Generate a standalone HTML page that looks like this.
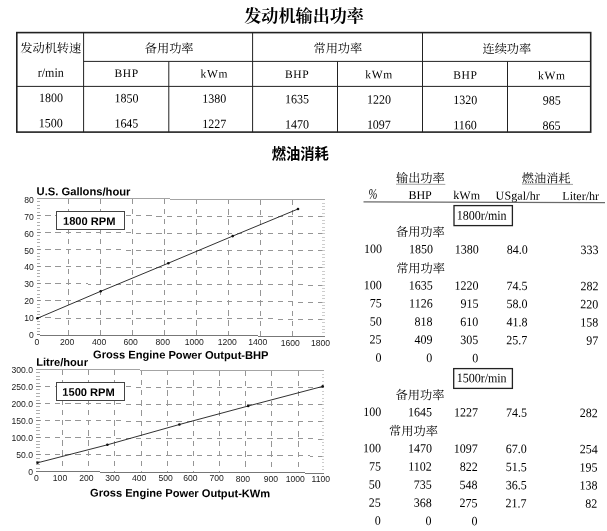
<!DOCTYPE html>
<html><head><meta charset="utf-8"><title>发动机输出功率</title>
<style>
html,body{margin:0;padding:0;background:#fff;}
body{width:607px;height:531px;position:relative;overflow:hidden;}
svg{position:absolute;left:0;top:0;font-family:"Liberation Serif",serif;will-change:transform;}
text{white-space:pre;}
</style></head><body>
<svg width="607" height="531" viewBox="0 0 607 531">
<text x="304.1" y="21.8" font-size="17.1" font-weight="bold" text-anchor="middle" fill="#000" font-family="'Liberation Serif','Noto Serif CJK SC',serif">发动机输出功率</text>
<rect x="16.8" y="32.6" width="573.9" height="99.5" fill="none" stroke="#222" stroke-width="1.6"/>
<line x1="83.6" y1="61.4" x2="590.7" y2="61.4" stroke="#222" stroke-width="1" />
<line x1="16.8" y1="86.4" x2="590.7" y2="86.4" stroke="#222" stroke-width="1" />
<line x1="83.6" y1="32.6" x2="83.6" y2="132.1" stroke="#222" stroke-width="1" />
<line x1="252.6" y1="32.6" x2="252.6" y2="132.1" stroke="#222" stroke-width="1" />
<line x1="422.5" y1="32.6" x2="422.5" y2="132.1" stroke="#222" stroke-width="1" />
<line x1="168.8" y1="61.4" x2="168.8" y2="132.1" stroke="#222" stroke-width="1" />
<line x1="337.5" y1="61.4" x2="337.5" y2="132.1" stroke="#222" stroke-width="1" />
<line x1="507.5" y1="61.4" x2="507.5" y2="132.1" stroke="#222" stroke-width="1" />
<text x="20.3" y="52.2" font-size="12.2" fill="#000" font-family="'Liberation Serif','Noto Serif CJK SC',serif" transform="rotate(0.29 20.3 52.2)">发动机转速</text>
<text x="144.8" y="52.4" font-size="12.2" fill="#000" font-family="'Liberation Serif','Noto Serif CJK SC',serif" transform="rotate(0.29 144.8 52.4)">备用功率</text>
<text x="313.5" y="52.4" font-size="12.2" fill="#000" font-family="'Liberation Serif','Noto Serif CJK SC',serif" transform="rotate(0.29 313.5 52.4)">常用功率</text>
<text x="482.5" y="52.9" font-size="12.2" fill="#000" font-family="'Liberation Serif','Noto Serif CJK SC',serif" transform="rotate(0.29 482.5 52.9)">连续功率</text>
<g transform="rotate(0.29 50 102)">
<text font-size="12.7" text-anchor="middle" transform="translate(50.6 76.8) scale(0.945 1)">r/min</text>
<text font-size="12.7" text-anchor="middle" transform="translate(50.9 102) scale(0.945 1)">1800</text>
<text font-size="12.7" text-anchor="middle" transform="translate(50.9 127.2) scale(0.945 1)">1500</text>
<text x="126.5" y="76.7" font-size="11.5" text-anchor="middle" letter-spacing="0.65">BHP</text>
<text x="214.3" y="76.7" font-size="11.5" text-anchor="middle" letter-spacing="0.7">kWm</text>
<text font-size="12.7" text-anchor="middle" transform="translate(126.5 102) scale(0.945 1)">1850</text>
<text font-size="12.7" text-anchor="middle" transform="translate(214.3 102) scale(0.945 1)">1380</text>
<text font-size="12.7" text-anchor="middle" transform="translate(126.5 127.2) scale(0.945 1)">1645</text>
<text font-size="12.7" text-anchor="middle" transform="translate(214.3 127.2) scale(0.945 1)">1227</text>
<text x="297.1" y="76.7" font-size="11.5" text-anchor="middle" letter-spacing="0.65">BHP</text>
<text x="379" y="76.7" font-size="11.5" text-anchor="middle" letter-spacing="0.7">kWm</text>
<text font-size="12.7" text-anchor="middle" transform="translate(297.1 102) scale(0.945 1)">1635</text>
<text font-size="12.7" text-anchor="middle" transform="translate(379 102) scale(0.945 1)">1220</text>
<text font-size="12.7" text-anchor="middle" transform="translate(297.1 127.2) scale(0.945 1)">1470</text>
<text font-size="12.7" text-anchor="middle" transform="translate(379 127.2) scale(0.945 1)">1097</text>
<text x="465.2" y="76.7" font-size="11.5" text-anchor="middle" letter-spacing="0.65">BHP</text>
<text x="551.7" y="76.7" font-size="11.5" text-anchor="middle" letter-spacing="0.7">kWm</text>
<text font-size="12.7" text-anchor="middle" transform="translate(465.2 102) scale(0.945 1)">1320</text>
<text font-size="12.7" text-anchor="middle" transform="translate(551.7 102) scale(0.945 1)">985</text>
<text font-size="12.7" text-anchor="middle" transform="translate(465.2 127.2) scale(0.945 1)">1160</text>
<text font-size="12.7" text-anchor="middle" transform="translate(551.7 127.2) scale(0.945 1)">865</text>
</g>
<text x="300.3" y="159" font-size="14.3" font-weight="bold" text-anchor="middle" fill="#000" font-family="'Liberation Sans','Noto Sans CJK SC',sans-serif">燃油消耗</text>
<g transform="translate(36.5 335) skewY(0.26) translate(-36.5 -335)"><g shape-rendering="crispEdges"><line x1="36.5" y1="317.93" x2="324.6" y2="317.93" stroke="#969696" stroke-width="1" stroke-dasharray="5.2 4.9" stroke-dashoffset="1.3"/><line x1="36.5" y1="300.85" x2="324.6" y2="300.85" stroke="#969696" stroke-width="1" stroke-dasharray="5.2 4.9" stroke-dashoffset="1.3"/><line x1="36.5" y1="283.77" x2="324.6" y2="283.77" stroke="#969696" stroke-width="1" stroke-dasharray="5.2 4.9" stroke-dashoffset="1.3"/><line x1="36.5" y1="266.7" x2="324.6" y2="266.7" stroke="#969696" stroke-width="1" stroke-dasharray="5.2 4.9" stroke-dashoffset="1.3"/><line x1="36.5" y1="249.62" x2="324.6" y2="249.62" stroke="#969696" stroke-width="1" stroke-dasharray="5.2 4.9" stroke-dashoffset="1.3"/><line x1="36.5" y1="232.55" x2="324.6" y2="232.55" stroke="#969696" stroke-width="1" stroke-dasharray="5.2 4.9" stroke-dashoffset="1.3"/><line x1="36.5" y1="215.48" x2="324.6" y2="215.48" stroke="#969696" stroke-width="1" stroke-dasharray="5.2 4.9" stroke-dashoffset="1.3"/><line x1="68.51" y1="198.4" x2="68.51" y2="335" stroke="#969696" stroke-width="1" stroke-dasharray="5.2 4.9" stroke-dashoffset="0"/><line x1="100.52" y1="198.4" x2="100.52" y2="335" stroke="#969696" stroke-width="1" stroke-dasharray="5.2 4.9" stroke-dashoffset="0"/><line x1="132.53" y1="198.4" x2="132.53" y2="335" stroke="#969696" stroke-width="1" stroke-dasharray="5.2 4.9" stroke-dashoffset="0"/><line x1="164.54" y1="198.4" x2="164.54" y2="335" stroke="#969696" stroke-width="1" stroke-dasharray="5.2 4.9" stroke-dashoffset="0"/><line x1="196.56" y1="198.4" x2="196.56" y2="335" stroke="#969696" stroke-width="1" stroke-dasharray="5.2 4.9" stroke-dashoffset="0"/><line x1="228.57" y1="198.4" x2="228.57" y2="335" stroke="#969696" stroke-width="1" stroke-dasharray="5.2 4.9" stroke-dashoffset="0"/><line x1="260.58" y1="198.4" x2="260.58" y2="335" stroke="#969696" stroke-width="1" stroke-dasharray="5.2 4.9" stroke-dashoffset="0"/><line x1="292.59" y1="198.4" x2="292.59" y2="335" stroke="#969696" stroke-width="1" stroke-dasharray="5.2 4.9" stroke-dashoffset="0"/><line x1="36.5" y1="335" x2="40.7" y2="335" stroke="#808080" stroke-width="0.8" /><line x1="322.2" y1="335" x2="324.6" y2="335" stroke="#c0c0c0" stroke-width="0.8" /><line x1="36.5" y1="331.58" x2="39.7" y2="331.58" stroke="#9a9a9a" stroke-width="0.8" /><line x1="322.2" y1="331.58" x2="324.6" y2="331.58" stroke="#c0c0c0" stroke-width="0.8" /><line x1="36.5" y1="328.17" x2="39.7" y2="328.17" stroke="#9a9a9a" stroke-width="0.8" /><line x1="322.2" y1="328.17" x2="324.6" y2="328.17" stroke="#c0c0c0" stroke-width="0.8" /><line x1="36.5" y1="324.75" x2="39.7" y2="324.75" stroke="#9a9a9a" stroke-width="0.8" /><line x1="322.2" y1="324.75" x2="324.6" y2="324.75" stroke="#c0c0c0" stroke-width="0.8" /><line x1="36.5" y1="321.34" x2="39.7" y2="321.34" stroke="#9a9a9a" stroke-width="0.8" /><line x1="322.2" y1="321.34" x2="324.6" y2="321.34" stroke="#c0c0c0" stroke-width="0.8" /><line x1="36.5" y1="317.93" x2="40.7" y2="317.93" stroke="#808080" stroke-width="0.8" /><line x1="322.2" y1="317.93" x2="324.6" y2="317.93" stroke="#c0c0c0" stroke-width="0.8" /><line x1="36.5" y1="314.51" x2="39.7" y2="314.51" stroke="#9a9a9a" stroke-width="0.8" /><line x1="322.2" y1="314.51" x2="324.6" y2="314.51" stroke="#c0c0c0" stroke-width="0.8" /><line x1="36.5" y1="311.1" x2="39.7" y2="311.1" stroke="#9a9a9a" stroke-width="0.8" /><line x1="322.2" y1="311.1" x2="324.6" y2="311.1" stroke="#c0c0c0" stroke-width="0.8" /><line x1="36.5" y1="307.68" x2="39.7" y2="307.68" stroke="#9a9a9a" stroke-width="0.8" /><line x1="322.2" y1="307.68" x2="324.6" y2="307.68" stroke="#c0c0c0" stroke-width="0.8" /><line x1="36.5" y1="304.26" x2="39.7" y2="304.26" stroke="#9a9a9a" stroke-width="0.8" /><line x1="322.2" y1="304.26" x2="324.6" y2="304.26" stroke="#c0c0c0" stroke-width="0.8" /><line x1="36.5" y1="300.85" x2="40.7" y2="300.85" stroke="#808080" stroke-width="0.8" /><line x1="322.2" y1="300.85" x2="324.6" y2="300.85" stroke="#c0c0c0" stroke-width="0.8" /><line x1="36.5" y1="297.44" x2="39.7" y2="297.44" stroke="#9a9a9a" stroke-width="0.8" /><line x1="322.2" y1="297.44" x2="324.6" y2="297.44" stroke="#c0c0c0" stroke-width="0.8" /><line x1="36.5" y1="294.02" x2="39.7" y2="294.02" stroke="#9a9a9a" stroke-width="0.8" /><line x1="322.2" y1="294.02" x2="324.6" y2="294.02" stroke="#c0c0c0" stroke-width="0.8" /><line x1="36.5" y1="290.61" x2="39.7" y2="290.61" stroke="#9a9a9a" stroke-width="0.8" /><line x1="322.2" y1="290.61" x2="324.6" y2="290.61" stroke="#c0c0c0" stroke-width="0.8" /><line x1="36.5" y1="287.19" x2="39.7" y2="287.19" stroke="#9a9a9a" stroke-width="0.8" /><line x1="322.2" y1="287.19" x2="324.6" y2="287.19" stroke="#c0c0c0" stroke-width="0.8" /><line x1="36.5" y1="283.77" x2="40.7" y2="283.77" stroke="#808080" stroke-width="0.8" /><line x1="322.2" y1="283.77" x2="324.6" y2="283.77" stroke="#c0c0c0" stroke-width="0.8" /><line x1="36.5" y1="280.36" x2="39.7" y2="280.36" stroke="#9a9a9a" stroke-width="0.8" /><line x1="322.2" y1="280.36" x2="324.6" y2="280.36" stroke="#c0c0c0" stroke-width="0.8" /><line x1="36.5" y1="276.94" x2="39.7" y2="276.94" stroke="#9a9a9a" stroke-width="0.8" /><line x1="322.2" y1="276.94" x2="324.6" y2="276.94" stroke="#c0c0c0" stroke-width="0.8" /><line x1="36.5" y1="273.53" x2="39.7" y2="273.53" stroke="#9a9a9a" stroke-width="0.8" /><line x1="322.2" y1="273.53" x2="324.6" y2="273.53" stroke="#c0c0c0" stroke-width="0.8" /><line x1="36.5" y1="270.12" x2="39.7" y2="270.12" stroke="#9a9a9a" stroke-width="0.8" /><line x1="322.2" y1="270.12" x2="324.6" y2="270.12" stroke="#c0c0c0" stroke-width="0.8" /><line x1="36.5" y1="266.7" x2="40.7" y2="266.7" stroke="#808080" stroke-width="0.8" /><line x1="322.2" y1="266.7" x2="324.6" y2="266.7" stroke="#c0c0c0" stroke-width="0.8" /><line x1="36.5" y1="263.28" x2="39.7" y2="263.28" stroke="#9a9a9a" stroke-width="0.8" /><line x1="322.2" y1="263.28" x2="324.6" y2="263.28" stroke="#c0c0c0" stroke-width="0.8" /><line x1="36.5" y1="259.87" x2="39.7" y2="259.87" stroke="#9a9a9a" stroke-width="0.8" /><line x1="322.2" y1="259.87" x2="324.6" y2="259.87" stroke="#c0c0c0" stroke-width="0.8" /><line x1="36.5" y1="256.46" x2="39.7" y2="256.46" stroke="#9a9a9a" stroke-width="0.8" /><line x1="322.2" y1="256.46" x2="324.6" y2="256.46" stroke="#c0c0c0" stroke-width="0.8" /><line x1="36.5" y1="253.04" x2="39.7" y2="253.04" stroke="#9a9a9a" stroke-width="0.8" /><line x1="322.2" y1="253.04" x2="324.6" y2="253.04" stroke="#c0c0c0" stroke-width="0.8" /><line x1="36.5" y1="249.62" x2="40.7" y2="249.62" stroke="#808080" stroke-width="0.8" /><line x1="322.2" y1="249.62" x2="324.6" y2="249.62" stroke="#c0c0c0" stroke-width="0.8" /><line x1="36.5" y1="246.21" x2="39.7" y2="246.21" stroke="#9a9a9a" stroke-width="0.8" /><line x1="322.2" y1="246.21" x2="324.6" y2="246.21" stroke="#c0c0c0" stroke-width="0.8" /><line x1="36.5" y1="242.8" x2="39.7" y2="242.8" stroke="#9a9a9a" stroke-width="0.8" /><line x1="322.2" y1="242.8" x2="324.6" y2="242.8" stroke="#c0c0c0" stroke-width="0.8" /><line x1="36.5" y1="239.38" x2="39.7" y2="239.38" stroke="#9a9a9a" stroke-width="0.8" /><line x1="322.2" y1="239.38" x2="324.6" y2="239.38" stroke="#c0c0c0" stroke-width="0.8" /><line x1="36.5" y1="235.97" x2="39.7" y2="235.97" stroke="#9a9a9a" stroke-width="0.8" /><line x1="322.2" y1="235.97" x2="324.6" y2="235.97" stroke="#c0c0c0" stroke-width="0.8" /><line x1="36.5" y1="232.55" x2="40.7" y2="232.55" stroke="#808080" stroke-width="0.8" /><line x1="322.2" y1="232.55" x2="324.6" y2="232.55" stroke="#c0c0c0" stroke-width="0.8" /><line x1="36.5" y1="229.14" x2="39.7" y2="229.14" stroke="#9a9a9a" stroke-width="0.8" /><line x1="322.2" y1="229.14" x2="324.6" y2="229.14" stroke="#c0c0c0" stroke-width="0.8" /><line x1="36.5" y1="225.72" x2="39.7" y2="225.72" stroke="#9a9a9a" stroke-width="0.8" /><line x1="322.2" y1="225.72" x2="324.6" y2="225.72" stroke="#c0c0c0" stroke-width="0.8" /><line x1="36.5" y1="222.31" x2="39.7" y2="222.31" stroke="#9a9a9a" stroke-width="0.8" /><line x1="322.2" y1="222.31" x2="324.6" y2="222.31" stroke="#c0c0c0" stroke-width="0.8" /><line x1="36.5" y1="218.89" x2="39.7" y2="218.89" stroke="#9a9a9a" stroke-width="0.8" /><line x1="322.2" y1="218.89" x2="324.6" y2="218.89" stroke="#c0c0c0" stroke-width="0.8" /><line x1="36.5" y1="215.47" x2="40.7" y2="215.47" stroke="#808080" stroke-width="0.8" /><line x1="322.2" y1="215.47" x2="324.6" y2="215.47" stroke="#c0c0c0" stroke-width="0.8" /><line x1="36.5" y1="212.06" x2="39.7" y2="212.06" stroke="#9a9a9a" stroke-width="0.8" /><line x1="322.2" y1="212.06" x2="324.6" y2="212.06" stroke="#c0c0c0" stroke-width="0.8" /><line x1="36.5" y1="208.65" x2="39.7" y2="208.65" stroke="#9a9a9a" stroke-width="0.8" /><line x1="322.2" y1="208.65" x2="324.6" y2="208.65" stroke="#c0c0c0" stroke-width="0.8" /><line x1="36.5" y1="205.23" x2="39.7" y2="205.23" stroke="#9a9a9a" stroke-width="0.8" /><line x1="322.2" y1="205.23" x2="324.6" y2="205.23" stroke="#c0c0c0" stroke-width="0.8" /><line x1="36.5" y1="201.81" x2="39.7" y2="201.81" stroke="#9a9a9a" stroke-width="0.8" /><line x1="322.2" y1="201.81" x2="324.6" y2="201.81" stroke="#c0c0c0" stroke-width="0.8" /><line x1="36.5" y1="198.4" x2="40.7" y2="198.4" stroke="#808080" stroke-width="0.8" /><line x1="322.2" y1="198.4" x2="324.6" y2="198.4" stroke="#c0c0c0" stroke-width="0.8" /><line x1="36.5" y1="198.4" x2="324.6" y2="198.4" stroke="#a4a4a4" stroke-width="1" /><line x1="36.5" y1="335" x2="324.6" y2="335" stroke="#777" stroke-width="1" /></g></g><polyline fill="none" stroke="#1a1a1a" stroke-width="0.9" points="37.4,318.3 100.7,291.3 168.3,263.2 232.7,236.1 298,209"/><circle cx="37.4" cy="318.3" r="1.3" fill="#111"/><circle cx="100.7" cy="291.3" r="1.3" fill="#111"/><circle cx="168.3" cy="263.2" r="1.3" fill="#111"/><circle cx="232.7" cy="236.1" r="1.3" fill="#111"/><circle cx="298" cy="209" r="1.3" fill="#111"/>
<g transform="translate(36.3 471.7) skewY(0.28) translate(-36.3 -471.7)"><g shape-rendering="crispEdges"><line x1="36.3" y1="454.67" x2="324.3" y2="454.67" stroke="#969696" stroke-width="1" stroke-dasharray="5.2 4.9" stroke-dashoffset="1.3"/><line x1="36.3" y1="437.63" x2="324.3" y2="437.63" stroke="#969696" stroke-width="1" stroke-dasharray="5.2 4.9" stroke-dashoffset="1.3"/><line x1="36.3" y1="420.6" x2="324.3" y2="420.6" stroke="#969696" stroke-width="1" stroke-dasharray="5.2 4.9" stroke-dashoffset="1.3"/><line x1="36.3" y1="403.57" x2="324.3" y2="403.57" stroke="#969696" stroke-width="1" stroke-dasharray="5.2 4.9" stroke-dashoffset="1.3"/><line x1="36.3" y1="386.53" x2="324.3" y2="386.53" stroke="#969696" stroke-width="1" stroke-dasharray="5.2 4.9" stroke-dashoffset="1.3"/><line x1="62.48" y1="369.5" x2="62.48" y2="471.7" stroke="#969696" stroke-width="1" stroke-dasharray="5.2 4.9" stroke-dashoffset="0"/><line x1="88.66" y1="369.5" x2="88.66" y2="471.7" stroke="#969696" stroke-width="1" stroke-dasharray="5.2 4.9" stroke-dashoffset="0"/><line x1="114.85" y1="369.5" x2="114.85" y2="471.7" stroke="#969696" stroke-width="1" stroke-dasharray="5.2 4.9" stroke-dashoffset="0"/><line x1="141.03" y1="369.5" x2="141.03" y2="471.7" stroke="#969696" stroke-width="1" stroke-dasharray="5.2 4.9" stroke-dashoffset="0"/><line x1="167.21" y1="369.5" x2="167.21" y2="471.7" stroke="#969696" stroke-width="1" stroke-dasharray="5.2 4.9" stroke-dashoffset="0"/><line x1="193.39" y1="369.5" x2="193.39" y2="471.7" stroke="#969696" stroke-width="1" stroke-dasharray="5.2 4.9" stroke-dashoffset="0"/><line x1="219.57" y1="369.5" x2="219.57" y2="471.7" stroke="#969696" stroke-width="1" stroke-dasharray="5.2 4.9" stroke-dashoffset="0"/><line x1="245.75" y1="369.5" x2="245.75" y2="471.7" stroke="#969696" stroke-width="1" stroke-dasharray="5.2 4.9" stroke-dashoffset="0"/><line x1="271.94" y1="369.5" x2="271.94" y2="471.7" stroke="#969696" stroke-width="1" stroke-dasharray="5.2 4.9" stroke-dashoffset="0"/><line x1="298.12" y1="369.5" x2="298.12" y2="471.7" stroke="#969696" stroke-width="1" stroke-dasharray="5.2 4.9" stroke-dashoffset="0"/><line x1="36.3" y1="471.7" x2="40.5" y2="471.7" stroke="#808080" stroke-width="0.8" /><line x1="321.9" y1="471.7" x2="324.3" y2="471.7" stroke="#c0c0c0" stroke-width="0.8" /><line x1="36.3" y1="468.29" x2="39.5" y2="468.29" stroke="#9a9a9a" stroke-width="0.8" /><line x1="321.9" y1="468.29" x2="324.3" y2="468.29" stroke="#c0c0c0" stroke-width="0.8" /><line x1="36.3" y1="464.89" x2="39.5" y2="464.89" stroke="#9a9a9a" stroke-width="0.8" /><line x1="321.9" y1="464.89" x2="324.3" y2="464.89" stroke="#c0c0c0" stroke-width="0.8" /><line x1="36.3" y1="461.48" x2="39.5" y2="461.48" stroke="#9a9a9a" stroke-width="0.8" /><line x1="321.9" y1="461.48" x2="324.3" y2="461.48" stroke="#c0c0c0" stroke-width="0.8" /><line x1="36.3" y1="458.07" x2="39.5" y2="458.07" stroke="#9a9a9a" stroke-width="0.8" /><line x1="321.9" y1="458.07" x2="324.3" y2="458.07" stroke="#c0c0c0" stroke-width="0.8" /><line x1="36.3" y1="454.67" x2="40.5" y2="454.67" stroke="#808080" stroke-width="0.8" /><line x1="321.9" y1="454.67" x2="324.3" y2="454.67" stroke="#c0c0c0" stroke-width="0.8" /><line x1="36.3" y1="451.26" x2="39.5" y2="451.26" stroke="#9a9a9a" stroke-width="0.8" /><line x1="321.9" y1="451.26" x2="324.3" y2="451.26" stroke="#c0c0c0" stroke-width="0.8" /><line x1="36.3" y1="447.85" x2="39.5" y2="447.85" stroke="#9a9a9a" stroke-width="0.8" /><line x1="321.9" y1="447.85" x2="324.3" y2="447.85" stroke="#c0c0c0" stroke-width="0.8" /><line x1="36.3" y1="444.45" x2="39.5" y2="444.45" stroke="#9a9a9a" stroke-width="0.8" /><line x1="321.9" y1="444.45" x2="324.3" y2="444.45" stroke="#c0c0c0" stroke-width="0.8" /><line x1="36.3" y1="441.04" x2="39.5" y2="441.04" stroke="#9a9a9a" stroke-width="0.8" /><line x1="321.9" y1="441.04" x2="324.3" y2="441.04" stroke="#c0c0c0" stroke-width="0.8" /><line x1="36.3" y1="437.63" x2="40.5" y2="437.63" stroke="#808080" stroke-width="0.8" /><line x1="321.9" y1="437.63" x2="324.3" y2="437.63" stroke="#c0c0c0" stroke-width="0.8" /><line x1="36.3" y1="434.23" x2="39.5" y2="434.23" stroke="#9a9a9a" stroke-width="0.8" /><line x1="321.9" y1="434.23" x2="324.3" y2="434.23" stroke="#c0c0c0" stroke-width="0.8" /><line x1="36.3" y1="430.82" x2="39.5" y2="430.82" stroke="#9a9a9a" stroke-width="0.8" /><line x1="321.9" y1="430.82" x2="324.3" y2="430.82" stroke="#c0c0c0" stroke-width="0.8" /><line x1="36.3" y1="427.41" x2="39.5" y2="427.41" stroke="#9a9a9a" stroke-width="0.8" /><line x1="321.9" y1="427.41" x2="324.3" y2="427.41" stroke="#c0c0c0" stroke-width="0.8" /><line x1="36.3" y1="424.01" x2="39.5" y2="424.01" stroke="#9a9a9a" stroke-width="0.8" /><line x1="321.9" y1="424.01" x2="324.3" y2="424.01" stroke="#c0c0c0" stroke-width="0.8" /><line x1="36.3" y1="420.6" x2="40.5" y2="420.6" stroke="#808080" stroke-width="0.8" /><line x1="321.9" y1="420.6" x2="324.3" y2="420.6" stroke="#c0c0c0" stroke-width="0.8" /><line x1="36.3" y1="417.19" x2="39.5" y2="417.19" stroke="#9a9a9a" stroke-width="0.8" /><line x1="321.9" y1="417.19" x2="324.3" y2="417.19" stroke="#c0c0c0" stroke-width="0.8" /><line x1="36.3" y1="413.79" x2="39.5" y2="413.79" stroke="#9a9a9a" stroke-width="0.8" /><line x1="321.9" y1="413.79" x2="324.3" y2="413.79" stroke="#c0c0c0" stroke-width="0.8" /><line x1="36.3" y1="410.38" x2="39.5" y2="410.38" stroke="#9a9a9a" stroke-width="0.8" /><line x1="321.9" y1="410.38" x2="324.3" y2="410.38" stroke="#c0c0c0" stroke-width="0.8" /><line x1="36.3" y1="406.97" x2="39.5" y2="406.97" stroke="#9a9a9a" stroke-width="0.8" /><line x1="321.9" y1="406.97" x2="324.3" y2="406.97" stroke="#c0c0c0" stroke-width="0.8" /><line x1="36.3" y1="403.57" x2="40.5" y2="403.57" stroke="#808080" stroke-width="0.8" /><line x1="321.9" y1="403.57" x2="324.3" y2="403.57" stroke="#c0c0c0" stroke-width="0.8" /><line x1="36.3" y1="400.16" x2="39.5" y2="400.16" stroke="#9a9a9a" stroke-width="0.8" /><line x1="321.9" y1="400.16" x2="324.3" y2="400.16" stroke="#c0c0c0" stroke-width="0.8" /><line x1="36.3" y1="396.75" x2="39.5" y2="396.75" stroke="#9a9a9a" stroke-width="0.8" /><line x1="321.9" y1="396.75" x2="324.3" y2="396.75" stroke="#c0c0c0" stroke-width="0.8" /><line x1="36.3" y1="393.35" x2="39.5" y2="393.35" stroke="#9a9a9a" stroke-width="0.8" /><line x1="321.9" y1="393.35" x2="324.3" y2="393.35" stroke="#c0c0c0" stroke-width="0.8" /><line x1="36.3" y1="389.94" x2="39.5" y2="389.94" stroke="#9a9a9a" stroke-width="0.8" /><line x1="321.9" y1="389.94" x2="324.3" y2="389.94" stroke="#c0c0c0" stroke-width="0.8" /><line x1="36.3" y1="386.53" x2="40.5" y2="386.53" stroke="#808080" stroke-width="0.8" /><line x1="321.9" y1="386.53" x2="324.3" y2="386.53" stroke="#c0c0c0" stroke-width="0.8" /><line x1="36.3" y1="383.13" x2="39.5" y2="383.13" stroke="#9a9a9a" stroke-width="0.8" /><line x1="321.9" y1="383.13" x2="324.3" y2="383.13" stroke="#c0c0c0" stroke-width="0.8" /><line x1="36.3" y1="379.72" x2="39.5" y2="379.72" stroke="#9a9a9a" stroke-width="0.8" /><line x1="321.9" y1="379.72" x2="324.3" y2="379.72" stroke="#c0c0c0" stroke-width="0.8" /><line x1="36.3" y1="376.31" x2="39.5" y2="376.31" stroke="#9a9a9a" stroke-width="0.8" /><line x1="321.9" y1="376.31" x2="324.3" y2="376.31" stroke="#c0c0c0" stroke-width="0.8" /><line x1="36.3" y1="372.91" x2="39.5" y2="372.91" stroke="#9a9a9a" stroke-width="0.8" /><line x1="321.9" y1="372.91" x2="324.3" y2="372.91" stroke="#c0c0c0" stroke-width="0.8" /><line x1="36.3" y1="369.5" x2="40.5" y2="369.5" stroke="#808080" stroke-width="0.8" /><line x1="321.9" y1="369.5" x2="324.3" y2="369.5" stroke="#c0c0c0" stroke-width="0.8" /><line x1="36.3" y1="369.5" x2="324.3" y2="369.5" stroke="#a4a4a4" stroke-width="1" /><line x1="36.3" y1="471.7" x2="324.3" y2="471.7" stroke="#777" stroke-width="1" /></g></g><polyline fill="none" stroke="#1a1a1a" stroke-width="0.9" points="37.5,462.8 107.4,444.8 179.4,424.5 248.2,406 322.7,386.4"/><circle cx="37.5" cy="462.8" r="1.3" fill="#111"/><circle cx="107.4" cy="444.8" r="1.3" fill="#111"/><circle cx="179.4" cy="424.5" r="1.3" fill="#111"/><circle cx="248.2" cy="406" r="1.3" fill="#111"/><circle cx="322.7" cy="386.4" r="1.3" fill="#111"/>
<g font-family="Liberation Sans, sans-serif" font-weight="bold" font-size="11.1">
<text x="36.6" y="195.1" font-size="11.19" transform="rotate(0.26 36.6 195.1)">U.S. Gallons/hour</text>
<text x="36.2" y="365.8" font-size="11.1" transform="rotate(0.28 36.2 365.8)">Litre/hour</text>
<text x="93" y="358.3" font-size="11.13" transform="rotate(0.26 93 358.3)">Gross Engine Power Output-BHP</text>
<text x="90" y="496.5" font-size="11.11" transform="rotate(0.28 90 496.5)">Gross Engine Power Output-KWm</text>
</g>
<rect shape-rendering="crispEdges" x="56.6" y="211.6" width="68.3" height="17.8" fill="#fff" stroke="#444" stroke-width="1"/>
<rect shape-rendering="crispEdges" x="56.2" y="382.6" width="68.7" height="17.4" fill="#fff" stroke="#444" stroke-width="1"/>
<g font-family="Liberation Sans, sans-serif" font-weight="bold">
<text x="63" y="224.8" font-size="11.1" transform="rotate(0.26 63 224.8)">1800 RPM</text>
<text x="62.3" y="395.8" font-size="11.1" transform="rotate(0.28 62.3 395.8)">1500 RPM</text>
</g>
<g font-family="Liberation Sans, sans-serif" fill="#1a1a1a">
<text x="33.7" y="337.6" font-size="8.6" text-anchor="end">0</text>
<text x="33.7" y="320.79" font-size="8.6" text-anchor="end">10</text>
<text x="33.7" y="303.98" font-size="8.6" text-anchor="end">20</text>
<text x="33.7" y="287.17" font-size="8.6" text-anchor="end">30</text>
<text x="33.7" y="270.36" font-size="8.6" text-anchor="end">40</text>
<text x="33.7" y="253.55" font-size="8.6" text-anchor="end">50</text>
<text x="33.7" y="236.74" font-size="8.6" text-anchor="end">60</text>
<text x="33.7" y="219.93" font-size="8.6" text-anchor="end">70</text>
<text x="33.7" y="203.12" font-size="8.6" text-anchor="end">80</text>
<text x="36.8" y="344.7" font-size="8.6" text-anchor="middle">0</text>
<text x="67.2" y="344.8" font-size="8.6" text-anchor="middle">200</text>
<text x="99.2" y="344.9" font-size="8.6" text-anchor="middle">400</text>
<text x="130.7" y="345" font-size="8.6" text-anchor="middle">600</text>
<text x="162.75" y="345.1" font-size="8.6" text-anchor="middle">800</text>
<text x="194.35" y="345.2" font-size="8.6" text-anchor="middle">1000</text>
<text x="227.2" y="345.3" font-size="8.6" text-anchor="middle">1200</text>
<text x="257.8" y="345.4" font-size="8.6" text-anchor="middle">1400</text>
<text x="290.3" y="345.5" font-size="8.6" text-anchor="middle">1600</text>
<text x="320.5" y="345.6" font-size="8.6" text-anchor="middle">1800</text>
<text x="33" y="474.5" font-size="8.6" text-anchor="end">0</text>
<text x="33" y="457.67" font-size="8.6" text-anchor="end">50.0</text>
<text x="33" y="440.84" font-size="8.6" text-anchor="end">100.0</text>
<text x="33" y="424.01" font-size="8.6" text-anchor="end">150.0</text>
<text x="33" y="407.18" font-size="8.6" text-anchor="end">200.0</text>
<text x="33" y="390.35" font-size="8.6" text-anchor="end">250.0</text>
<text x="33" y="372.92" font-size="8.6" text-anchor="end">300.0</text>
<text x="36.3" y="480.6" font-size="8.6" text-anchor="middle">0</text>
<text x="60" y="480.72" font-size="8.6" text-anchor="middle">100</text>
<text x="86.4" y="480.84" font-size="8.6" text-anchor="middle">200</text>
<text x="112.5" y="480.96" font-size="8.6" text-anchor="middle">300</text>
<text x="139.2" y="481.08" font-size="8.6" text-anchor="middle">400</text>
<text x="165.6" y="481.2" font-size="8.6" text-anchor="middle">500</text>
<text x="190.4" y="481.32" font-size="8.6" text-anchor="middle">600</text>
<text x="216.7" y="481.44" font-size="8.6" text-anchor="middle">700</text>
<text x="242.8" y="481.56" font-size="8.6" text-anchor="middle">800</text>
<text x="270.8" y="481.68" font-size="8.6" text-anchor="middle">900</text>
<text x="295.2" y="481.8" font-size="8.6" text-anchor="middle">1000</text>
<text x="320.75" y="481.92" font-size="8.6" text-anchor="middle">1100</text>
</g>
<text x="396" y="182.2" font-size="12.2" fill="#000" font-family="'Liberation Serif','Noto Serif CJK SC',serif" transform="rotate(0.28 396 182.2)">输出功率</text>
<text x="521.8" y="182.4" font-size="12.2" fill="#000" font-family="'Liberation Serif','Noto Serif CJK SC',serif" transform="rotate(0.28 521.8 182.4)">燃油消耗</text>
<line x1="396" y1="184.2" x2="445.3" y2="184.4" stroke="#a0a0a0" stroke-width="1" />
<line x1="522" y1="184.1" x2="573" y2="184.4" stroke="#a0a0a0" stroke-width="1" />
<line x1="363.5" y1="201.9" x2="605" y2="202.7" stroke="#6a6a6a" stroke-width="1.3" />
<text transform="translate(368.6 198.9) scale(0.76 1)" font-size="14" font-style="italic">%</text>
<text x="420.1" y="199" font-size="12" text-anchor="middle" transform="rotate(0.28 420.1 199)">BHP</text>
<text x="466.7" y="199.2" font-size="12" text-anchor="middle" transform="rotate(0.28 466.7 199.2)">kWm</text>
<text x="495.6" y="199.5" font-size="12" letter-spacing="0.12" transform="rotate(0.28 495.6 199.5)">USgal/hr</text>
<text x="599" y="200" font-size="12" text-anchor="end" transform="rotate(0.28 599 200)">Liter/hr</text>
<rect x="454.0" y="205.6" width="58.4" height="20.0" fill="none" stroke="#222" stroke-width="1.3"/>
<text font-size="13.11" transform="rotate(0.28 456.7 219.6) translate(456.7 219.6) scale(0.915 1)">1800r/min</text>
<rect x="453.7" y="368.6" width="58.7" height="19.8" fill="none" stroke="#222" stroke-width="1.3"/>
<text font-size="12.9" transform="rotate(0.28 456.7 382.1) translate(456.7 382.1) scale(0.93 1)">1500r/min</text>
<text x="396" y="236" font-size="12.2" fill="#000" font-family="'Liberation Serif','Noto Serif CJK SC',serif" transform="rotate(0.28 396 236)">备用功率</text>
<text x="396.2" y="272.4" font-size="12.2" fill="#000" font-family="'Liberation Serif','Noto Serif CJK SC',serif" transform="rotate(0.28 396.2 272.4)">常用功率</text>
<text x="395.6" y="399.1" font-size="12.2" fill="#000" font-family="'Liberation Serif','Noto Serif CJK SC',serif" transform="rotate(0.28 395.6 399.1)">备用功率</text>
<text x="389.1" y="435.1" font-size="12.2" fill="#000" font-family="'Liberation Serif','Noto Serif CJK SC',serif" transform="rotate(0.28 389.1 435.1)">常用功率</text>
<g transform="rotate(0.28 375 253)"><text font-size="12.7" text-anchor="end" transform="translate(382 253) scale(0.945 1)">100</text><text font-size="12.7" text-anchor="end" transform="translate(432.9 253) scale(0.945 1)">1850</text><text font-size="12.7" text-anchor="end" transform="translate(478.7 253) scale(0.945 1)">1380</text><text font-size="12.7" transform="translate(506.8 253) scale(0.945 1)">84.0</text><text font-size="12.7" text-anchor="end" transform="translate(598.6 253) scale(0.945 1)">333</text><text font-size="12.7" text-anchor="end" transform="translate(382 289.24) scale(0.945 1)">100</text><text font-size="12.7" text-anchor="end" transform="translate(432.9 289.24) scale(0.945 1)">1635</text><text font-size="12.7" text-anchor="end" transform="translate(478.7 289.24) scale(0.945 1)">1220</text><text font-size="12.7" transform="translate(506.8 289.24) scale(0.945 1)">74.5</text><text font-size="12.7" text-anchor="end" transform="translate(598.6 289.24) scale(0.945 1)">282</text><text font-size="12.7" text-anchor="end" transform="translate(382 307.36) scale(0.945 1)">75</text><text font-size="12.7" text-anchor="end" transform="translate(432.9 307.36) scale(0.945 1)">1126</text><text font-size="12.7" text-anchor="end" transform="translate(478.7 307.36) scale(0.945 1)">915</text><text font-size="12.7" transform="translate(506.8 307.36) scale(0.945 1)">58.0</text><text font-size="12.7" text-anchor="end" transform="translate(598.6 307.36) scale(0.945 1)">220</text><text font-size="12.7" text-anchor="end" transform="translate(382 325.48) scale(0.945 1)">50</text><text font-size="12.7" text-anchor="end" transform="translate(432.9 325.48) scale(0.945 1)">818</text><text font-size="12.7" text-anchor="end" transform="translate(478.7 325.48) scale(0.945 1)">610</text><text font-size="12.7" transform="translate(506.8 325.48) scale(0.945 1)">41.8</text><text font-size="12.7" text-anchor="end" transform="translate(598.6 325.48) scale(0.945 1)">158</text><text font-size="12.7" text-anchor="end" transform="translate(382 343.6) scale(0.945 1)">25</text><text font-size="12.7" text-anchor="end" transform="translate(432.9 343.6) scale(0.945 1)">409</text><text font-size="12.7" text-anchor="end" transform="translate(478.7 343.6) scale(0.945 1)">305</text><text font-size="12.7" transform="translate(506.8 343.6) scale(0.945 1)">25.7</text><text font-size="12.7" text-anchor="end" transform="translate(598.6 343.6) scale(0.945 1)">97</text><text font-size="12.7" text-anchor="end" transform="translate(382 361.72) scale(0.945 1)">0</text><text font-size="12.7" text-anchor="end" transform="translate(432.9 361.72) scale(0.945 1)">0</text><text font-size="12.7" text-anchor="end" transform="translate(478.7 361.72) scale(0.945 1)">0</text><text font-size="12.7" text-anchor="end" transform="translate(382 416.08) scale(0.945 1)">100</text><text font-size="12.7" text-anchor="end" transform="translate(432.9 416.08) scale(0.945 1)">1645</text><text font-size="12.7" text-anchor="end" transform="translate(478.7 416.08) scale(0.945 1)">1227</text><text font-size="12.7" transform="translate(506.8 416.08) scale(0.945 1)">74.5</text><text font-size="12.7" text-anchor="end" transform="translate(598.6 416.08) scale(0.945 1)">282</text><text font-size="12.7" text-anchor="end" transform="translate(382 452.32) scale(0.945 1)">100</text><text font-size="12.7" text-anchor="end" transform="translate(432.9 452.32) scale(0.945 1)">1470</text><text font-size="12.7" text-anchor="end" transform="translate(478.7 452.32) scale(0.945 1)">1097</text><text font-size="12.7" transform="translate(506.8 452.32) scale(0.945 1)">67.0</text><text font-size="12.7" text-anchor="end" transform="translate(598.6 452.32) scale(0.945 1)">254</text><text font-size="12.7" text-anchor="end" transform="translate(382 470.44) scale(0.945 1)">75</text><text font-size="12.7" text-anchor="end" transform="translate(432.9 470.44) scale(0.945 1)">1102</text><text font-size="12.7" text-anchor="end" transform="translate(478.7 470.44) scale(0.945 1)">822</text><text font-size="12.7" transform="translate(506.8 470.44) scale(0.945 1)">51.5</text><text font-size="12.7" text-anchor="end" transform="translate(598.6 470.44) scale(0.945 1)">195</text><text font-size="12.7" text-anchor="end" transform="translate(382 488.56) scale(0.945 1)">50</text><text font-size="12.7" text-anchor="end" transform="translate(432.9 488.56) scale(0.945 1)">735</text><text font-size="12.7" text-anchor="end" transform="translate(478.7 488.56) scale(0.945 1)">548</text><text font-size="12.7" transform="translate(506.8 488.56) scale(0.945 1)">36.5</text><text font-size="12.7" text-anchor="end" transform="translate(598.6 488.56) scale(0.945 1)">138</text><text font-size="12.7" text-anchor="end" transform="translate(382 506.68) scale(0.945 1)">25</text><text font-size="12.7" text-anchor="end" transform="translate(432.9 506.68) scale(0.945 1)">368</text><text font-size="12.7" text-anchor="end" transform="translate(478.7 506.68) scale(0.945 1)">275</text><text font-size="12.7" transform="translate(506.8 506.68) scale(0.945 1)">21.7</text><text font-size="12.7" text-anchor="end" transform="translate(598.6 506.68) scale(0.945 1)">82</text><text font-size="12.7" text-anchor="end" transform="translate(382 524.8) scale(0.945 1)">0</text><text font-size="12.7" text-anchor="end" transform="translate(432.9 524.8) scale(0.945 1)">0</text><text font-size="12.7" text-anchor="end" transform="translate(478.7 524.8) scale(0.945 1)">0</text></g>
</svg>
</body></html>
